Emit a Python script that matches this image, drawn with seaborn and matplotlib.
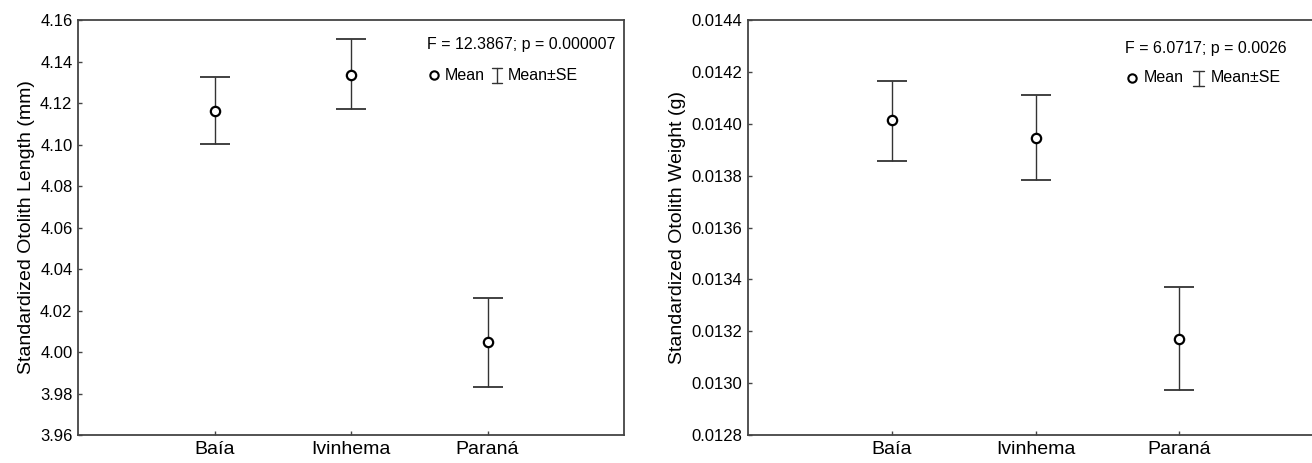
import numpy as np
import pandas as pd
import matplotlib
matplotlib.use("Agg")
import matplotlib.pyplot as plt
import seaborn as sns

# ── data ────────────────────────────────────────────────────────────────────
sites = ["Baía", "Ivinhema", "Paraná"]

length_mean = [4.1161, 4.1336, 4.0046]
length_lo   = [4.1001, 4.1170, 3.9829]
length_hi   = [4.1326, 4.1508, 4.0258]

weight_mean = [0.014013, 0.013946, 0.013169]
weight_lo   = [0.013858, 0.013783, 0.012972]
weight_hi   = [0.014166, 0.014110, 0.013369]

length_ticks = [3.96, 3.98, 4.00, 4.02, 4.04, 4.06, 4.08, 4.10, 4.12, 4.14, 4.16]
weight_ticks = [0.0128, 0.0130, 0.0132, 0.0134, 0.0136, 0.0138, 0.0140, 0.0142, 0.0144]

length_stats = "F = 12.3867; p = 0.000007"
weight_stats = "F = 6.0717; p = 0.0026"

sns.set_style("white")
plt.rcParams["font.family"] = ["Liberation Sans", "DejaVu Sans"]
plt.rcParams["text.color"] = "black"
plt.rcParams["axes.labelcolor"] = "black"
plt.rcParams["xtick.color"] = "black"
plt.rcParams["ytick.color"] = "black"

fig = plt.figure(figsize=(13.12, 4.63), dpi=100)
ax1 = fig.add_axes([78 / 1312, 28 / 463, 546 / 1312, 415 / 463])
ax2 = fig.add_axes([748 / 1312, 28 / 463, 575 / 1312, 415 / 463])

EDGE = "#444444"


def draw_panel(ax, mean, lo, hi, ticks, fmt, ylabel, stats, txt_x, txt_y):
    df = pd.DataFrame({"site": sites, "mean": mean, "lo": lo, "hi": hi})
    x = np.arange(len(sites))
    yerr = np.vstack([df["mean"] - df["lo"], df["hi"] - df["mean"]])
    ax.errorbar(x, df["mean"], yerr=yerr, fmt="none", ecolor="#333333",
                elinewidth=1.0, capsize=10.5, capthick=1.3, zorder=2)
    sns.scatterplot(x=x, y=df["mean"], ax=ax, marker="o", s=45,
                    facecolor="white", edgecolor="black", linewidth=1.6,
                    zorder=3, legend=False)

    ax.set_xlim(-1, 3)
    ax.set_ylim(ticks[0], ticks[-1])
    ax.set_xticks(x)
    ax.set_xticklabels(sites, fontsize=14)
    ax.set_yticks(ticks)
    ax.set_yticklabels([fmt.format(t) for t in ticks], fontsize=12)
    ax.set_xlabel("")
    ax.set_ylabel(ylabel, fontsize=14, labelpad=4)
    ax.tick_params(direction="in", length=3, width=1, color=EDGE,
                   labelcolor="black", left=True, bottom=True, pad=4)
    for sp in ax.spines.values():
        sp.set_color(EDGE)
        sp.set_linewidth(1.3)

    # stats text + legend key
    tr = ax.transAxes
    ax.text(txt_x, txt_y, stats, transform=tr, fontsize=11.5,
            ha="left", va="center")
    ly = txt_y - 30 / 415
    ax.plot([txt_x + 7 / 546], [ly], transform=tr, marker="o", ms=6,
            mfc="white", mec="black", mew=1.5, clip_on=False)
    ax.text(txt_x + 18 / 546, ly, "Mean", transform=tr, fontsize=11.5,
            ha="left", va="center")
    bx = txt_x + 70 / 546
    h = 7.5 / 415
    w = 5 / 546
    ax.plot([bx, bx], [ly - h, ly + h], transform=tr, color="#333333", lw=1)
    ax.plot([bx - w, bx + w], [ly + h, ly + h], transform=tr, color="#333333", lw=1)
    ax.plot([bx - w, bx + w], [ly - h, ly - h], transform=tr, color="#333333", lw=1)
    ax.text(bx + 11 / 546, ly, "Mean±SE", transform=tr, fontsize=11.5,
            ha="left", va="center")


draw_panel(ax1, length_mean, length_lo, length_hi, length_ticks, "{:.2f}",
           "Standardized Otolith Length (mm)", length_stats,
           (427 - 78) / 546, (435 - 45) / 415)
draw_panel(ax2, weight_mean, weight_lo, weight_hi, weight_ticks, "{:.4f}",
           "Standardized Otolith Weight (g)", weight_stats,
           (1125 - 748) / 575, (435 - 48) / 415)

fig.savefig("out.png", dpi=100)
